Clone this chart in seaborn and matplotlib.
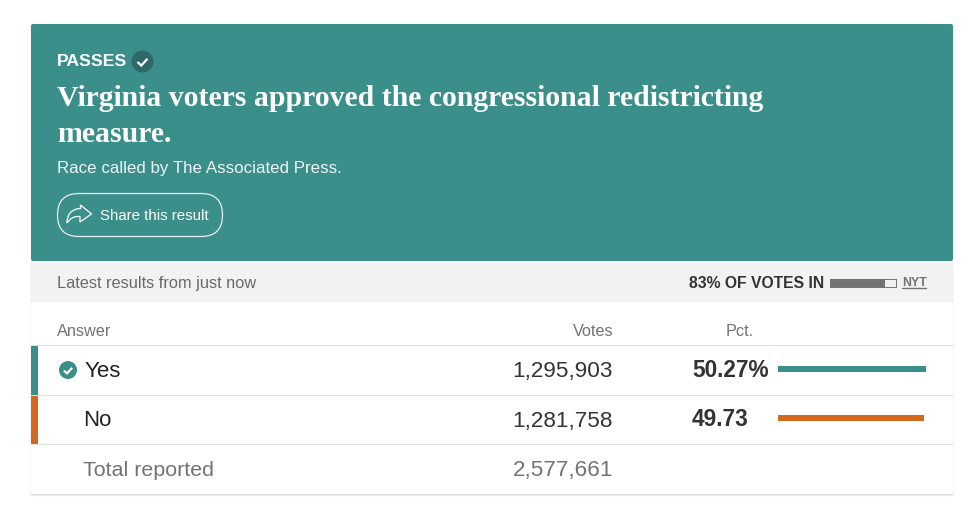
"""
Virginia redistricting measure, results card
"""

import pandas as pd
import matplotlib
matplotlib.use('Agg')
import matplotlib.pyplot as plt
from matplotlib.patches import Rectangle, FancyBboxPatch, Circle, PathPatch
from matplotlib.path import Path
import seaborn as sns

sns.set_theme(style='white')
plt.rcParams['font.family'] = ['Liberation Sans', 'DejaVu Sans']

# Data
answers = ['Yes', 'No']
votes = [1295903, 1281758]
total_votes = 2577661
pct_values = [50.27, 49.73]
pct_labels = ['50.27%', '49.73']
votes_in = 83

TEAL = '#3b8f8b'
ORANGE = '#d2691f'
DARK = '#333333'
GREY = '#737373'
LINE = '#e2e2e2'
SERIF = ['Liberation Serif', 'DejaVu Serif']

W, H = 977, 515
fig = plt.figure(figsize=(W / 100, H / 100), dpi=100, facecolor='white')

# Base axes in page pixels for the card furniture and text
base = fig.add_axes([0, 0, 1, 1])
base.set_xlim(0, W)
base.set_ylim(H, 0)
base.axis('off')


def px_axes(x0, y0, x1, y1):
    """Axes placed by page pixels (top left origin)"""
    ax = fig.add_axes([x0 / W, 1 - y1 / H, (x1 - x0) / W, (y1 - y0) / H])
    ax.patch.set_alpha(0)
    return ax


def tick_mark(x, y, size, lw):
    base.plot([x - size, x - size * 0.25, x + size], [y, y + size * 0.7, y - size * 0.65],
              color='white', lw=lw, solid_capstyle='butt', solid_joinstyle='miter', zorder=6)


def label(x, y, s, color, size, **kw):
    # y is the text baseline
    base.text(x, y, s, color=color, fontsize=size, va='baseline', zorder=5, **kw)


# Card shadow and body
for i, alpha in enumerate([0.012, 0.02, 0.045]):
    grow = 3 - i
    base.add_patch(Rectangle((31 - grow * 0.4, 26), 922 + 0.8 * grow, 468 + grow, color='black',
                             alpha=alpha, lw=0, zorder=1))
base.add_patch(Rectangle((31, 492), 922, 4, color='black', alpha=0.05, lw=0, zorder=1))
base.add_patch(Rectangle((31, 24), 922, 470, color='white', lw=0, zorder=2))

# Header
base.add_patch(FancyBboxPatch((31, 24), 922, 237, boxstyle='round,pad=0,rounding_size=2',
                              color=TEAL, lw=0, zorder=3))
label(57, 66.5, 'PASSES', 'white', 12.6, fontweight='bold')
base.add_patch(Circle((142.5, 61.5), 11, color='#2f6967', lw=0, zorder=5))
tick_mark(142.5, 62, 5, 1.6)
label(57, 106.5, 'Virginia voters approved the congressional redistricting', 'white', 21.4,
      fontweight='bold', family=SERIF)
label(57, 142.5, 'measure.', 'white', 21.4, fontweight='bold', family=SERIF)
label(57, 173, 'Race called by The Associated Press.', '#eef5f4', 12.2)

# Share button
base.add_patch(FancyBboxPatch((57.5, 193.5), 165, 43, boxstyle='round,pad=0,rounding_size=21.5',
                              fc='none', ec='#e6f1f0', lw=0.9, zorder=5))
share_verts = [(80.5, 205), (91.5, 214), (80, 222), (80, 216.5), (73, 216), (70, 219), (67, 223),
               (67, 216), (70, 209), (80.5, 208.5), (80.5, 205)]
share_codes = [Path.MOVETO, Path.LINETO, Path.LINETO, Path.LINETO, Path.CURVE4, Path.CURVE4, Path.CURVE4,
               Path.CURVE4, Path.CURVE4, Path.CURVE4, Path.CLOSEPOLY]
base.add_patch(PathPatch(Path(share_verts, share_codes), fc='none', ec='white', lw=0.9, zorder=5))
label(100, 220.5, 'Share this result', 'white', 10.8)

# Status band
base.add_patch(Rectangle((31, 261), 922, 41, color='#f2f2f2', lw=0, zorder=3))
label(57, 288, 'Latest results from just now', '#696969', 11.8)
label(824, 288, f'{votes_in}% OF VOTES IN', DARK, 11.35, fontweight='bold', ha='right')
label(902, 286, 'NYT', GREY, 8.8, fontweight='bold')
base.plot([902, 926], [288, 288], color=GREY, lw=1, zorder=5)

# Votes-in progress bar
ax_prog = px_axes(830, 279, 896, 287)
sns.barplot(x=[votes_in], y=['in'], color=GREY, width=1, saturation=1, linewidth=0, ax=ax_prog)
ax_prog.set_xlim(0, 100)
ax_prog.set_xticks([])
ax_prog.set_yticks([])
ax_prog.set_xlabel('')
ax_prog.set_ylabel('')
for side in ax_prog.spines.values():
    side.set_color(GREY)
    side.set_linewidth(0.7)

# Table header
label(57, 335.5, 'Answer', GREY, 11.7)
label(614, 335.5, 'Votes', GREY, 11.7, ha='right')
label(754, 335.5, 'Pct.', GREY, 11.7, ha='right')

# Table rules
for y in [344.8, 394.8, 443.8]:
    base.plot([31, 953], [y, y], color=LINE, lw=0.75, zorder=4)

# Rows
row_colors = [TEAL, ORANGE]
row_base = [377, 426.5]
strips = [(345.5, 49.5), (396, 48)]
for i in range(len(answers)):
    base.add_patch(Rectangle((31, strips[i][0]), 7, strips[i][1], color=row_colors[i], lw=0, zorder=5))
    label(85 if i == 0 else 83, row_base[i], answers[i], '#222222', 16)
    label(613, row_base[i], f'{votes[i]:,}', DARK, 16.2, ha='right')
    label(692, row_base[i], pct_labels[i], DARK, 16.3, fontweight='bold')
base.add_patch(Circle((68, 370), 9, color=TEAL, lw=0, zorder=5))
tick_mark(68, 370.5, 4.2, 1.5)

label(83, 476, 'Total reported', GREY, 15.4)
label(613, 476, f'{total_votes:,}', GREY, 16.2, ha='right')

# Percent bars
df = pd.DataFrame({'answer': answers, 'pct': pct_values})
ax_bars = px_axes(778, 344.5, 926, 442.5)
sns.barplot(data=df, x='pct', y='answer', hue='answer', order=answers, hue_order=answers,
            palette=row_colors, saturation=1, width=0.13, linewidth=0, legend=False, ax=ax_bars)
ax_bars.set_xlim(0, 50.27)
ax_bars.set_ylim(1.5, -0.5)
ax_bars.axis('off')

plt.savefig('out.png', dpi=100, facecolor='white')
